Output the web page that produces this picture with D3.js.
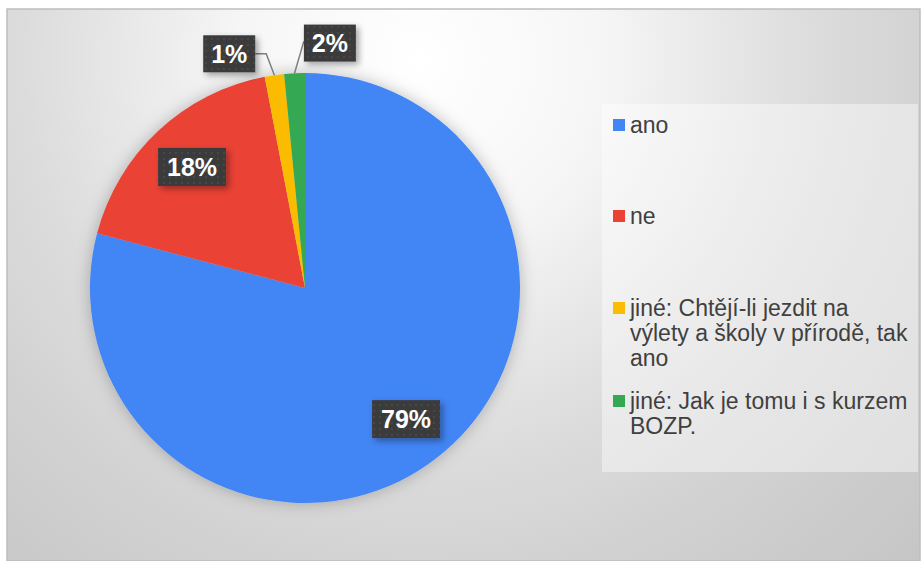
<!DOCTYPE html>
<html>
<head>
<meta charset="utf-8">
<script src="https://cdn.jsdelivr.net/npm/d3@7"></script>
<style>
  body { margin: 0; background: #fff; }
  svg { display: block; font-family: "Liberation Sans", Arial, sans-serif; }
</style>
</head>
<body>
<div id="chart"></div>
<script>
// data
const categories = ['ano', 'ne', 'jiné: Chtějí-li jezdit na výlety a školy v přírodě, tak ano', 'jiné: Jak je tomu i s kurzem BOZP.']
const values = [79.1, 17.9, 1.45, 1.55]
const colors = ['#4285f4', '#ea4335', '#fbbc04', '#34a853']
const legendLines = [
  ['ano'],
  ['ne'],
  ['jiné: Chtějí-li jezdit na', 'výlety a školy v přírodě, tak', 'ano'],
  ['jiné: Jak je tomu i s kurzem', 'BOZP.']
]

const width = 921
const height = 561
const cx = 305, cy = 288, radius = 215

const svg = d3.select('#chart').append('svg')
  .attr('width', width)
  .attr('height', height)

const defs = svg.append('defs')

// background gradient
const bg = defs.append('radialGradient')
  .attr('id', 'bg')
  .attr('gradientUnits', 'userSpaceOnUse')
  .attr('cx', 420).attr('cy', 60).attr('r', 720)
bg.append('stop').attr('offset', 0).attr('stop-color', '#ffffff')
bg.append('stop').attr('offset', 0.25).attr('stop-color', '#f6f6f6')
bg.append('stop').attr('offset', 0.55).attr('stop-color', '#dcdcdc')
bg.append('stop').attr('offset', 0.75).attr('stop-color', '#d0d0d0')
bg.append('stop').attr('offset', 1).attr('stop-color', '#c5c5c5')

// dotted label pattern
const pat = defs.append('pattern')
  .attr('id', 'dots')
  .attr('patternUnits', 'userSpaceOnUse')
  .attr('width', 6).attr('height', 6)
pat.append('rect').attr('width', 6).attr('height', 6).attr('fill', '#3b3b3b')
pat.append('circle').attr('cx', 3).attr('cy', 3).attr('r', 0.9).attr('fill', '#4d4d4d')

const shadow = defs.append('filter').attr('id', 'shadow')
  .attr('x', '-30%').attr('y', '-30%').attr('width', '160%').attr('height', '160%')
shadow.append('feDropShadow')
  .attr('dx', 3).attr('dy', 3).attr('stdDeviation', 3)
  .attr('flood-color', '#000').attr('flood-opacity', 0.35)

const pieShadow = defs.append('filter').attr('id', 'pieShadow')
  .attr('x', '-20%').attr('y', '-20%').attr('width', '140%').attr('height', '140%')
pieShadow.append('feDropShadow')
  .attr('dx', 0).attr('dy', 0).attr('stdDeviation', 8)
  .attr('flood-color', '#000').attr('flood-opacity', 0.25)

// chart area
svg.append('rect')
  .attr('x', 7).attr('y', 9)
  .attr('width', width - 8).attr('height', height - 9)
  .attr('fill', 'url(#bg)')
  .attr('stroke', '#bdbdbd')
  .attr('stroke-width', 1.5)

// pie
const pie = d3.pie().sort(null).value(d => d)
const arcs = pie(values)
const arc = d3.arc().innerRadius(0).outerRadius(radius)
const labelArc = d3.arc().innerRadius(radius * 0.77).outerRadius(radius * 0.77)

const g = svg.append('g').attr('transform', `translate(${cx},${cy})`)

g.append('g')
  .attr('filter', 'url(#pieShadow)')
  .selectAll('path')
  .data(arcs)
  .enter()
  .append('path')
  .attr('d', arc)
  .attr('fill', (d, i) => colors[i])

// labels
const total = d3.sum(values)
const fmt = v => `${Math.round(v / total * 100)}%`

const labels = arcs.map((d, i) => {
  const mid = (d.startAngle + d.endAngle) / 2
  const small = (d.endAngle - d.startAngle) < 0.3
  if (!small) {
    const [x, y] = labelArc.centroid(d)
    return { d, i, x, y, small }
  }
  // spread outside labels apart
  const shift = i === 2 ? -0.17 : 0.15
  const a = mid + shift
  const rr = radius * 1.145
  return { d, i, x: rr * Math.sin(a), y: -rr * Math.cos(a), small, mid }
})

const boxW = 52, boxH = 37, bigW = 68, bigH = 38

labels.forEach(l => {
  const w = l.small ? boxW : bigW
  const h = l.small ? boxH : bigH
  if (l.small) {
    const px = radius * Math.sin(l.mid)
    const py = -radius * Math.cos(l.mid)
    let pts
    if (l.x < px) {
      pts = [[l.x + w / 2, l.y], [l.x + w / 2 + 11, l.y], [px, py]]
    } else {
      pts = [[l.x - w / 2, l.y - 2], [px, py]]
    }
    g.append('path')
      .attr('d', d3.line()(pts))
      .attr('fill', 'none')
      .attr('stroke', '#7f7f7f')
      .attr('stroke-width', 1.5)
  }
  g.append('rect')
    .attr('x', l.x - w / 2).attr('y', l.y - h / 2)
    .attr('width', w).attr('height', h)
    .attr('fill', 'url(#dots)')
    .attr('filter', 'url(#shadow)')
  g.append('text')
    .attr('x', l.x).attr('y', l.y)
    .attr('dy', '0.36em')
    .attr('text-anchor', 'middle')
    .attr('fill', '#fff')
    .attr('font-size', 25)
    .attr('font-weight', 'bold')
    .text(fmt(values[l.i]))
})

// legend
const legend = svg.append('g')
legend.append('rect')
  .attr('x', 602).attr('y', 104)
  .attr('width', 316).attr('height', 368)
  .attr('fill', '#ffffff')
  .attr('fill-opacity', 0.42)

const legendY = [125, 216, 308, 401]
const lineH = 25

categories.forEach((c, i) => {
  const item = legend.append('g').attr('transform', `translate(613,${legendY[i]})`)
  item.append('rect')
    .attr('x', 0).attr('y', -6)
    .attr('width', 12).attr('height', 12)
    .attr('fill', colors[i])
  const t = item.append('text')
    .attr('x', 17).attr('y', 0)
    .attr('fill', '#404040')
    .attr('font-size', 23)
  legendLines[i].forEach((line, j) => {
    t.append('tspan')
      .attr('x', 17)
      .attr('y', j * lineH)
      .attr('dy', '0.36em')
      .text(line)
  })
})
</script>
</body>
</html>
